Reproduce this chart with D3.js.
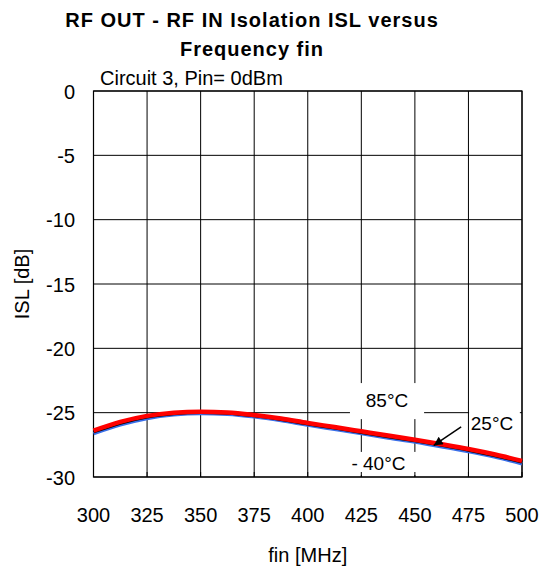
<!DOCTYPE html>
<html>
<head>
<meta charset="utf-8">
<script src="https://cdn.jsdelivr.net/npm/d3@7"></script>
<style>
  body { margin: 0; background: #fff; }
  text { font-family: "Liberation Sans", Arial, sans-serif; fill: #000; }
</style>
</head>
<body>
<svg id="chart" width="541" height="566"></svg>
<script>
// frequency in MHz
var freq = [300, 312.5, 325, 337.5, 350, 362.5, 375, 387.5, 400, 412.5, 425, 437.5, 450, 462.5, 475, 487.5, 500];
// isolation in dB for each temperature
var isl85 = [-26.4, -25.72, -25.25, -25.0, -24.92, -24.98, -25.18, -25.45, -25.8, -26.12, -26.45, -26.78, -27.1, -27.45, -27.82, -28.25, -28.75];
var isl25 = [-26.48, -25.8, -25.32, -25.06, -24.97, -25.03, -25.23, -25.51, -25.86, -26.18, -26.52, -26.85, -27.17, -27.52, -27.9, -28.33, -28.83];
var islM40 = [-26.58, -25.9, -25.4, -25.12, -25.02, -25.08, -25.28, -25.57, -25.92, -26.25, -26.58, -26.92, -27.24, -27.6, -27.98, -28.41, -28.92];

var xTicks = [300, 325, 350, 375, 400, 425, 450, 475, 500];
var yTicks = [0, -5, -10, -15, -20, -25, -30];

var title = ["RF OUT - RF IN Isolation ISL versus", "Frequency fin"];
var subtitle = "Circuit 3, Pin= 0dBm";

var series = [
  {name: "- 40°C", values: islM40, color: "#3a6fe8", width: 3.5, shift: 0.6},
  {name: "25°C", values: isl25, color: "#000", width: 3.5, shift: 0},
  {name: "85°C", values: isl85, color: "#ff0000", width: 4.5, shift: 0}
];

// label boxes, in data units: [x0, x1, y0, y1] and text position
var labels = [
  {text: "85°C", x: 437, y: -24.0, box: [419.7, 454.3, -22.7, -25.5]},
  {text: "- 40°C", x: 433, y: -28.9, box: [418.3, 451.4, -28.05, -29.85]},
  {text: "25°C", x: 486, y: -25.8, box: [475.3, 499, -24.4, -27.1]}
];

var svg = d3.select("#chart");

var plotLeft = 93.5, plotRight = 522, plotTop = 91, plotBottom = 477;

var x = d3.scaleLinear().domain([300, 500]).range([plotLeft, plotRight]);
var y = d3.scaleLinear().domain([0, -30]).range([plotTop, plotBottom]);

// titles
svg.selectAll(".title")
    .data(title)
  .enter().append("text")
    .attr("x", 252)
    .attr("y", function(d, i) { return 27 + i * 29; })
    .attr("text-anchor", "middle")
    .style("font-weight", "bold")
    .style("font-size", "20px")
    .style("letter-spacing", "1px")
    .text(function(d) { return d; });

svg.append("text")
    .attr("x", 100)
    .attr("y", 85)
    .style("font-size", "20px")
    .text(subtitle);

var g = svg.append("g");

// grid
g.selectAll(".vgrid")
    .data(xTicks)
  .enter().append("line")
    .attr("x1", function(d) { return x(d); })
    .attr("x2", function(d) { return x(d); })
    .attr("y1", plotTop)
    .attr("y2", plotBottom)
    .attr("stroke", "#000")
    .attr("stroke-width", 1);

g.selectAll(".hgrid")
    .data(yTicks)
  .enter().append("line")
    .attr("x1", plotLeft)
    .attr("x2", plotRight)
    .attr("y1", function(d) { return y(d); })
    .attr("y2", function(d) { return y(d); })
    .attr("stroke", "#000")
    .attr("stroke-width", 1);

// white boxes behind the labels
g.selectAll(".box")
    .data(labels)
  .enter().append("rect")
    .attr("x", function(d) { return x(d.box[0]); })
    .attr("y", function(d) { return y(d.box[2]); })
    .attr("width", function(d) { return x(d.box[1]) - x(d.box[0]); })
    .attr("height", function(d) { return y(d.box[3]) - y(d.box[2]); })
    .attr("fill", "#fff");

// frame
g.append("rect")
    .attr("x", plotLeft)
    .attr("y", plotTop)
    .attr("width", plotRight - plotLeft)
    .attr("height", plotBottom - plotTop)
    .attr("fill", "none")
    .attr("stroke", "#000")
    .attr("stroke-width", 1.2);

// small inner ticks on the bottom axis
g.selectAll(".xtick")
    .data(xTicks)
  .enter().append("line")
    .attr("x1", function(d) { return x(d); })
    .attr("x2", function(d) { return x(d); })
    .attr("y1", plotBottom)
    .attr("y2", plotBottom - 5)
    .attr("stroke", "#000");

// curves
var line = d3.line()
    .x(function(d, i) { return x(freq[i]); })
    .y(function(d) { return y(d); })
    .curve(d3.curveMonotoneX);

g.selectAll(".curve")
    .data(series)
  .enter().append("path")
    .attr("d", function(d) { return line(d.values); })
    .attr("transform", function(d) { return "translate(0," + d.shift + ")"; })
    .attr("fill", "none")
    .attr("stroke", function(d) { return d.color; })
    .attr("stroke-width", function(d) { return d.width; })
    .attr("stroke-linejoin", "round");

// label texts
g.selectAll(".label")
    .data(labels)
  .enter().append("text")
    .attr("x", function(d) { return x(d.x); })
    .attr("y", function(d) { return y(d.y); })
    .attr("dy", "0.36em")
    .attr("text-anchor", "middle")
    .style("font-size", "19px")
    .text(function(d) { return d.text; });

// arrow pointing at the 25°C curve
svg.append("defs").append("marker")
    .attr("id", "head")
    .attr("viewBox", "0 0 10 10")
    .attr("refX", 10)
    .attr("refY", 5)
    .attr("markerWidth", 11)
    .attr("markerHeight", 9)
    .attr("markerUnits", "userSpaceOnUse")
    .attr("orient", "auto")
  .append("path")
    .attr("d", "M0,0L10,5L0,10z")
    .attr("fill", "#000");

g.append("line")
    .attr("x1", x(471.6))
    .attr("y1", y(-26.1))
    .attr("x2", x(458.8))
    .attr("y2", y(-27.55))
    .attr("stroke", "#000")
    .attr("stroke-width", 1.5)
    .attr("marker-end", "url(#head)");

// tick labels
svg.selectAll(".xlabel")
    .data(xTicks)
  .enter().append("text")
    .attr("x", function(d) { return x(d); })
    .attr("y", 522)
    .attr("text-anchor", "middle")
    .style("font-size", "20px")
    .text(function(d) { return d; });

svg.selectAll(".ylabel")
    .data(yTicks)
  .enter().append("text")
    .attr("x", 75)
    .attr("y", function(d) { return y(d); })
    .attr("dy", "0.38em")
    .attr("text-anchor", "end")
    .style("font-size", "20px")
    .text(function(d) { return d; });

// axis titles
svg.append("text")
    .attr("x", (plotLeft + plotRight) / 2)
    .attr("y", 562)
    .attr("text-anchor", "middle")
    .style("font-size", "20px")
    .text("fin [MHz]");

svg.append("text")
    .attr("transform", "translate(29," + (plotTop + plotBottom) / 2 + ") rotate(-90)")
    .attr("text-anchor", "middle")
    .style("font-size", "20px")
    .text("ISL [dB]");
</script>
</body>
</html>
